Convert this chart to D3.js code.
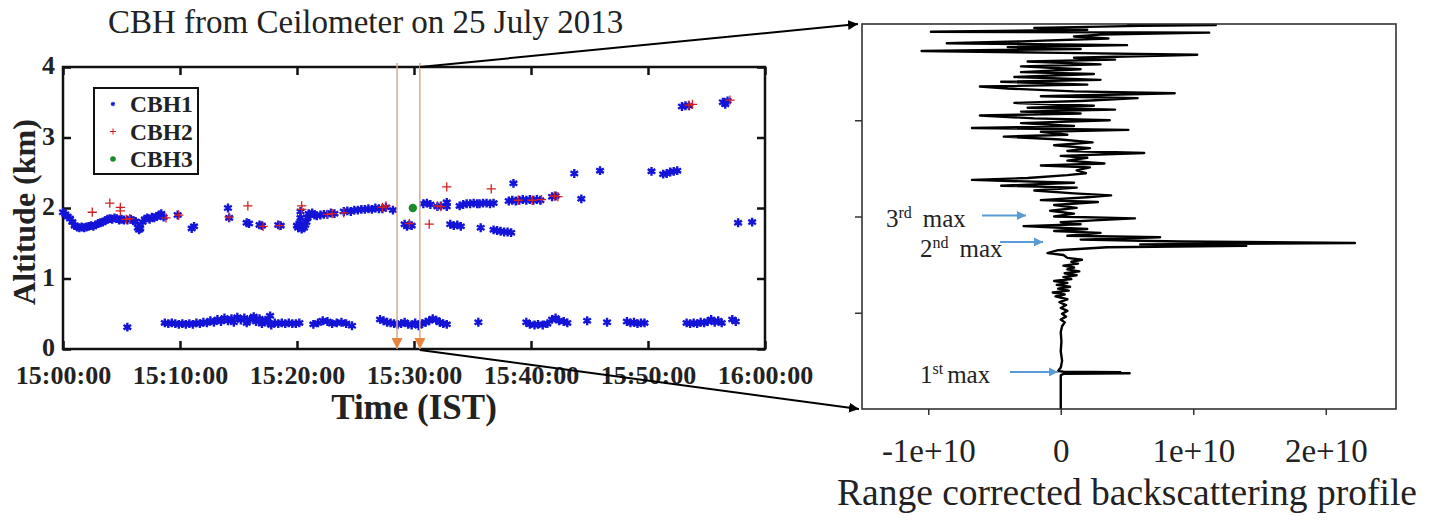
<!DOCTYPE html>
<html>
<head>
<meta charset="utf-8">
<script src="https://cdn.jsdelivr.net/npm/d3@7"></script>
<style>
    body { margin: 0; background: #fff; }
    svg { display: block; font-family: "Liberation Serif", "Times New Roman", serif; }
</style>
</head>
<body>
<svg id="chart" width="1437" height="520"></svg>
<script>
// CBH series, [minutes after 15:00, altitude km]
const cbh1 = [
    [0.0, 1.94], [0.2, 1.91], [0.4, 1.88], [0.6, 1.85], [0.8, 1.80], [1.0, 1.75], [1.2, 1.73], [1.4, 1.72],
    [1.6, 1.73], [1.8, 1.72], [2.0, 1.73], [2.2, 1.74], [2.4, 1.75], [2.6, 1.74], [2.8, 1.76], [3.0, 1.78],
    [3.2, 1.79], [3.4, 1.80], [3.6, 1.82], [3.8, 1.84], [4.0, 1.85], [4.2, 1.84], [4.4, 1.86], [4.6, 1.85],
    [4.8, 1.83], [5.0, 1.84], [5.2, 1.83], [5.5, 1.83], [5.8, 1.84], [6.0, 1.82], [6.2, 1.81], [6.4, 1.72],
    [6.5, 1.69], [6.6, 1.71], [6.8, 1.80], [7.0, 1.84], [7.2, 1.86], [7.4, 1.84], [7.6, 1.87], [7.8, 1.86],
    [8.0, 1.88], [8.2, 1.90], [8.4, 1.92], [8.6, 1.87],
    [9.8, 1.90], [11.0, 1.71], [11.2, 1.74], [14.1, 2.00], [14.2, 1.86], [15.7, 1.79], [15.9, 1.78],
    [16.8, 1.76], [17.0, 1.75], [18.4, 1.76], [18.6, 1.75],
    [20.0, 1.75], [20.1, 1.72], [20.2, 1.78], [20.3, 1.86], [20.3, 1.95], [20.4, 1.70], [20.5, 1.74],
    [20.6, 1.72], [20.7, 1.76], [20.8, 1.80], [20.9, 1.86], [21.0, 1.92], [21.1, 1.90],
    [21.3, 1.93], [21.5, 1.90], [21.7, 1.89], [22.0, 1.90], [22.3, 1.91], [22.6, 1.91], [22.9, 1.93], [23.2, 1.92],
    [24.0, 1.95], [24.3, 1.96], [24.6, 1.95], [24.9, 1.97], [25.2, 1.97], [25.5, 1.98], [25.8, 1.98],
    [26.1, 1.99], [26.4, 1.98], [26.7, 2.00], [27.0, 1.99], [27.3, 1.99], [27.6, 2.01],
    [28.2, 1.97],
    [29.2, 1.77], [29.4, 1.74], [29.6, 1.76], [29.8, 1.75],
    [30.8, 2.06], [31.1, 2.07], [31.4, 2.05], [32.0, 2.02], [32.3, 2.03], [32.8, 2.08], [32.8, 2.02],
    [33.1, 1.77], [33.4, 1.75], [33.7, 1.76], [34.0, 1.74],
    [33.9, 2.03], [34.2, 2.05], [34.5, 2.06], [34.8, 2.06], [35.1, 2.07], [35.4, 2.06],
    [35.7, 1.72],
    [35.6, 2.06], [35.9, 2.07], [36.2, 2.07], [36.5, 2.06], [36.8, 2.07],
    [36.8, 1.69], [37.1, 1.68], [37.4, 1.67], [37.7, 1.66], [38.0, 1.66], [38.3, 1.65],
    [38.5, 2.35],
    [38.1, 2.10], [38.4, 2.11], [38.7, 2.10], [39.0, 2.11], [39.3, 2.12], [39.6, 2.11], [39.9, 2.12],
    [40.2, 2.11], [40.5, 2.12], [40.8, 2.11],
    [41.8, 2.16], [42.1, 2.17],
    [43.7, 2.49], [44.3, 2.13], [45.9, 2.53], [50.3, 2.52], [51.3, 2.48], [51.6, 2.49], [51.9, 2.51],
    [52.2, 2.52], [52.5, 2.53],
    [52.9, 3.44], [53.2, 3.45], [53.5, 3.45],
    [56.4, 3.50], [56.6, 3.47], [56.8, 3.52],
    [57.7, 1.79], [58.9, 1.80],
    // lower layer
    [5.5, 0.31],
    [8.7, 0.37], [9.0, 0.36], [9.3, 0.37], [9.6, 0.36], [9.9, 0.35], [10.2, 0.36], [10.5, 0.35], [10.8, 0.36],
    [11.1, 0.35], [11.4, 0.37], [11.7, 0.36], [12.0, 0.38], [12.3, 0.37], [12.6, 0.40], [12.9, 0.38],
    [13.2, 0.42], [13.5, 0.39], [13.8, 0.44], [14.1, 0.40], [14.4, 0.43], [14.6, 0.38], [14.9, 0.45],
    [15.2, 0.41], [15.5, 0.44], [15.7, 0.37], [16.0, 0.42], [16.3, 0.46], [16.5, 0.39], [16.8, 0.43],
    [17.0, 0.36], [17.3, 0.41], [17.5, 0.38], [17.7, 0.47], [17.8, 0.34], [18.1, 0.37], [18.4, 0.36],
    [18.7, 0.37], [19.0, 0.36], [19.3, 0.37], [19.6, 0.36], [19.9, 0.36], [20.2, 0.37],
    [21.4, 0.35], [21.8, 0.37], [22.2, 0.40], [22.6, 0.39], [23.0, 0.36], [23.4, 0.37], [23.8, 0.38],
    [24.2, 0.36], [24.7, 0.33],
    [27.1, 0.42], [27.4, 0.40], [27.7, 0.38], [28.0, 0.37], [28.3, 0.36], [28.6, 0.35], [28.9, 0.36],
    [29.2, 0.38], [29.5, 0.35], [29.8, 0.34], [30.1, 0.37], [30.4, 0.33], [30.7, 0.36], [31.0, 0.38],
    [31.3, 0.40], [31.6, 0.43], [31.9, 0.41], [32.2, 0.38], [32.5, 0.36], [32.8, 0.35],
    [35.5, 0.38],
    [39.6, 0.38], [39.9, 0.35], [40.3, 0.34], [40.6, 0.35], [41.0, 0.34], [41.4, 0.36], [41.8, 0.42],
    [42.1, 0.44], [42.4, 0.40], [42.8, 0.39], [43.1, 0.37],
    [44.8, 0.40], [46.5, 0.38], [48.2, 0.39], [48.5, 0.37], [48.8, 0.38], [49.1, 0.36], [49.4, 0.37], [49.7, 0.37],
    [53.3, 0.37], [53.6, 0.36], [53.9, 0.37], [54.2, 0.36], [54.5, 0.38], [54.8, 0.37], [55.1, 0.39],
    [55.4, 0.42], [55.7, 0.38], [56.0, 0.40], [56.3, 0.37], [57.2, 0.42], [57.5, 0.39]
]

const cbh2 = [
    [2.5, 1.94], [4.0, 2.07], [4.9, 2.01], [4.9, 1.96], [5.4, 1.84], [5.7, 1.85], [8.8, 1.86], [9.9, 1.90],
    [14.2, 1.87], [15.8, 2.03], [17.1, 1.74], [18.5, 1.75], [20.4, 2.03], [20.4, 1.98], [22.6, 1.91],
    [23.0, 1.92], [24.0, 1.93], [27.3, 2.01], [27.6, 2.03], [29.6, 1.78], [31.3, 1.77], [32.0, 2.03],
    [32.3, 2.02], [32.8, 2.30], [36.6, 2.27], [38.9, 2.11], [40.1, 2.11], [40.9, 2.12], [42.0, 2.17],
    [42.3, 2.16], [53.5, 3.46], [53.8, 3.47], [57.0, 3.53]
]

const cbh3 = [[29.9, 2.00]]

const seriesNames = ['CBH1', 'CBH2', 'CBH3']

// selected profile window (minutes after 15:00)
const windowMinutes = [28.55, 30.5]

const timeTicks = [0, 10, 20, 30, 40, 50, 60]
const altTicks = [0, 1, 2, 3, 4]

// backscatter profile, [altitude km, value / 1e10]
const profile = [
    [0.00, 0.00], [0.35, 0.00], [0.365, 0.02], [0.372, 0.52], [0.378, 0.08], [0.382, 0.45], [0.388, 0.02],
    [0.395, -0.02], [0.43, 0.00], [0.50, 0.01], [0.60, 0.00], [0.70, 0.005], [0.80, 0.00], [0.86, 0.01],
    [0.90, 0.03], [0.93, 0.00], [0.96, 0.04], [0.99, 0.01], [1.02, 0.05], [1.05, 0.00], [1.08, 0.04],
    [1.11, -0.01], [1.14, 0.05], [1.17, -0.04], [1.19, 0.03], [1.21, -0.06], [1.23, 0.06], [1.25, -0.02],
    [1.27, 0.07], [1.29, -0.03], [1.31, 0.05], [1.33, -0.05], [1.35, 0.08], [1.37, 0.02], [1.39, 0.12],
    [1.41, 0.03], [1.43, 0.14], [1.45, 0.05], [1.47, 0.10], [1.49, 0.02], [1.51, 0.13], [1.53, 0.08],
    [1.55, 0.16], [1.57, 0.05], [1.60, 0.02], [1.62, -0.10], [1.65, -0.02], [1.68, 0.35], [1.695, 1.40],
    [1.71, 0.60], [1.725, 2.22], [1.74, 0.90], [1.76, 0.15], [1.785, 0.75], [1.80, 0.05], [1.83, 0.30],
    [1.85, -0.05], [1.87, 0.20], [1.90, -0.28], [1.92, 0.15], [1.94, 0.00], [1.96, 0.25], [1.98, 0.56],
    [2.00, -0.05], [2.03, 0.10], [2.06, -0.08], [2.09, 0.12], [2.12, -0.05], [2.15, 0.28], [2.17, -0.15],
    [2.20, 0.20], [2.22, 0.38], [2.24, 0.10], [2.27, -0.20], [2.30, 0.12], [2.32, -0.45], [2.35, 0.10],
    [2.38, -0.67], [2.40, -0.25], [2.43, 0.05], [2.45, 0.19], [2.48, 0.12], [2.51, 0.22], [2.53, -0.15],
    [2.55, 0.33], [2.58, 0.05], [2.61, 0.20], [2.63, 0.00], [2.66, 0.63], [2.68, 0.05], [2.71, 0.22],
    [2.74, -0.05], [2.77, 0.24], [2.80, 0.00], [2.83, -0.43], [2.85, 0.05], [2.88, -0.15], [2.90, 0.51],
    [2.92, -0.67], [2.94, 0.10], [2.97, -0.30], [3.00, 0.37], [3.02, -0.20], [3.05, -0.61], [3.07, 0.15],
    [3.09, -0.30], [3.11, 0.41], [3.13, -0.25], [3.15, 0.25], [3.18, -0.35], [3.20, 0.15], [3.23, 0.58],
    [3.25, -0.15], [3.28, 0.86], [3.30, 0.10], [3.33, -0.40], [3.35, -0.61], [3.37, 0.20], [3.40, -0.45],
    [3.42, 0.30], [3.45, -0.35], [3.48, 0.25], [3.50, -0.30], [3.53, 0.15], [3.56, -0.30], [3.58, 0.30],
    [3.61, -0.25], [3.63, 0.41], [3.65, 0.10], [3.68, 1.03], [3.70, 0.00], [3.72, -1.05], [3.74, 0.15],
    [3.76, -0.40], [3.78, 0.50], [3.80, -0.86], [3.82, -0.30], [3.85, 0.36], [3.87, 0.10], [3.89, 0.30],
    [3.91, 1.12], [3.92, -0.98], [3.94, 0.20], [3.96, -0.20], [3.98, 0.60], [3.99, 1.17], [4.00, 0.50]
]

const profileTicks = [-1e10, 0, 1e10, 2e10]
const profileAltTicks = [1, 2, 3]

// annotated maxima: label, superscript, altitude of the arrow
const maxima = [
    { n: '1', sup: 'st', alt: 0.375, tx: 920, ty: 383, x0: 1010, x1: 1058 },
    { n: '2', sup: 'nd', alt: 1.725, tx: 920, ty: 257, x0: 1000, x1: 1043 },
    { n: '3', sup: 'rd', alt: 2.00, tx: 886, ty: 227, x0: 982, x1: 1026 }
]

const BLUE = '#1414d8'
const RED = '#d42020'
const GREEN = '#1a8a2a'
const ORANGE_LINE = '#d9ab8a'
const ORANGE_HEAD = '#e8843e'
const ARROW_BLUE = '#5b9bd5'

const L = { left: 63, right: 765, top: 67, bottom: 349 }
const R = { left: 862, right: 1396, top: 24, bottom: 409 }

const svg = d3.select('#chart')

const defs = svg.append('defs')
const addMarker = (id, color, size) => {
    defs.append('marker')
        .attr('id', id)
        .attr('viewBox', '0 0 10 10')
        .attr('refX', 10)
        .attr('refY', 5)
        .attr('markerUnits', 'userSpaceOnUse')
        .attr('markerWidth', size)
        .attr('markerHeight', size)
        .attr('orient', 'auto')
        .append('path')
        .attr('d', 'M0,0 L10,5 L0,10 z')
        .attr('fill', color)
}
addMarker('arrow-black', '#000', 10)
addMarker('arrow-blue', ARROW_BLUE, 9)
addMarker('arrow-orange', ORANGE_HEAD, 11)

defs.append('clipPath').attr('id', 'clip-right')
    .append('rect')
    .attr('x', R.left).attr('y', R.top)
    .attr('width', R.right - R.left).attr('height', R.bottom - R.top)

// ---------- left panel ----------
const t0 = new Date(2013, 6, 25, 15, 0, 0)
const toDate = m => new Date(t0.getTime() + m * 60000)

const x = d3.scaleTime().domain([toDate(0), toDate(60)]).range([L.left, L.right])
const y = d3.scaleLinear().domain([0, 4]).range([L.bottom, L.top])

svg.append('text')
    .attr('x', 108)
    .attr('y', 33)
    .attr('font-size', 33)
    .attr('fill', '#222')
    .text('CBH from Ceilometer on 25 July 2013')

const styleAxis = (g, size) => {
    g.select('.domain').remove()
    g.selectAll('.tick line').attr('stroke', '#111').attr('stroke-width', 2.5)
    g.selectAll('.tick text')
        .attr('font-family', '"Liberation Serif", "Times New Roman", serif')
        .attr('font-size', size)
        .attr('fill', '#222')
}

svg.append('g')
    .attr('transform', `translate(0,${L.bottom})`)
    .call(d3.axisBottom(x).tickValues(timeTicks.map(toDate)).tickFormat(d3.timeFormat('%H:%M:%S'))
        .tickSize(-8).tickSizeOuter(0).tickPadding(17))
    .call(g => styleAxis(g, 26))
    .call(g => g.selectAll('.tick text').attr('font-weight', 'bold'))

svg.append('g')
    .attr('transform', `translate(0,${L.top})`)
    .call(d3.axisTop(x).tickValues(timeTicks.map(toDate)).tickFormat('').tickSize(-8).tickSizeOuter(0))
    .call(g => styleAxis(g, 26))

svg.append('g')
    .attr('transform', `translate(${L.left},0)`)
    .call(d3.axisLeft(y).tickValues(altTicks).tickFormat(d3.format('d')).tickSize(-8).tickSizeOuter(0).tickPadding(8))
    .call(g => styleAxis(g, 26))
    .call(g => g.selectAll('.tick text').attr('font-weight', 'bold').attr('dy', '0.26em'))

svg.append('g')
    .attr('transform', `translate(${L.right},0)`)
    .call(d3.axisRight(y).tickValues(altTicks).tickFormat('').tickSize(-8).tickSizeOuter(0))
    .call(g => styleAxis(g, 26))

svg.append('rect')
    .attr('x', L.left).attr('y', L.top)
    .attr('width', L.right - L.left).attr('height', L.bottom - L.top)
    .attr('fill', 'none')
    .attr('stroke', '#111')
    .attr('stroke-width', 2.5)

svg.append('text')
    .attr('x', (L.left + L.right) / 2)
    .attr('y', 419)
    .attr('text-anchor', 'middle')
    .attr('font-size', 35)
    .attr('font-weight', 'bold')
    .attr('fill', '#222')
    .text('Time (IST)')

svg.append('text')
    .attr('transform', `translate(35,${(L.top + L.bottom) / 2 + 4}) rotate(-90)`)
    .attr('text-anchor', 'middle')
    .attr('font-size', 32)
    .attr('font-weight', 'bold')
    .attr('fill', '#222')
    .text('Altitude (km)')

const asterisk = d3.symbol().type(d3.symbolAsterisk).size(55)
const plus = d3.symbol().type(d3.symbolPlus).size(30)

const gData = svg.append('g')

gData.selectAll('.cbh1')
    .data(cbh1)
    .join('path')
    .attr('class', 'cbh1')
    .attr('transform', d => `translate(${x(toDate(d[0]))},${y(d[1])})`)
    .attr('d', asterisk)
    .attr('fill', 'none')
    .attr('stroke', BLUE)
    .attr('stroke-width', 2.4)

gData.selectAll('.cbh2')
    .data(cbh2)
    .join('path')
    .attr('class', 'cbh2')
    .attr('transform', d => `translate(${x(toDate(d[0]))},${y(d[1])})`)
    .attr('d', plus)
    .attr('fill', 'none')
    .attr('stroke', RED)
    .attr('stroke-width', 1.3)

gData.selectAll('.cbh3')
    .data(cbh3)
    .join('circle')
    .attr('class', 'cbh3')
    .attr('cx', d => x(toDate(d[0])))
    .attr('cy', d => y(d[1]))
    .attr('r', 4.2)
    .attr('fill', GREEN)

// legend
const legend = svg.append('g').attr('transform', 'translate(94,88)')
legend.append('rect')
    .attr('width', 104).attr('height', 86)
    .attr('fill', '#fff')
    .attr('stroke', '#111')
    .attr('stroke-width', 2)

const legendItems = legend.selectAll('.item')
    .data(seriesNames)
    .join('g')
    .attr('class', 'item')
    .attr('transform', (d, i) => `translate(19,${16 + i * 27.5})`)

legendItems.each(function (d, i) {
    const g = d3.select(this)
    if (i === 0) {
        g.append('path').attr('d', d3.symbol().type(d3.symbolAsterisk).size(14)).attr('stroke', BLUE).attr('stroke-width', 1.2).attr('fill', 'none')
    } else if (i === 1) {
        g.append('path').attr('d', d3.symbol().type(d3.symbolPlus).size(14)).attr('stroke', RED).attr('stroke-width', 1).attr('fill', 'none')
    } else {
        g.append('circle').attr('r', 2.8).attr('fill', GREEN)
    }
    g.append('text')
        .attr('x', 17)
        .attr('y', 8)
        .attr('font-size', 23.5)
        .attr('font-weight', 'bold')
        .attr('fill', '#222')
        .text(d)
})

// window markers
svg.selectAll('.win')
    .data(windowMinutes)
    .join('line')
    .attr('class', 'win')
    .attr('x1', d => x(toDate(d)))
    .attr('x2', d => x(toDate(d)))
    .attr('y1', 63)
    .attr('y2', L.bottom)
    .attr('stroke', ORANGE_LINE)
    .attr('stroke-width', 1.5)
    .attr('marker-end', 'url(#arrow-orange)')

// ---------- right panel ----------
const xR = d3.scaleLinear().domain([-1.5e10, 2.53e10]).range([R.left, R.right])
const yR = d3.scaleLinear().domain([0, 4]).range([R.bottom, R.top])

svg.append('path')
    .datum(profile)
    .attr('clip-path', 'url(#clip-right)')
    .attr('d', d3.line().x(d => xR(d[1] * 1e10)).y(d => yR(d[0])))
    .attr('fill', 'none')
    .attr('stroke', '#000')
    .attr('stroke-width', 2.4)
    .attr('stroke-linejoin', 'round')

const styleRight = g => {
    g.select('.domain').remove()
    g.selectAll('.tick line').attr('stroke', '#333').attr('stroke-width', 1.5)
    g.selectAll('.tick text')
        .attr('font-family', '"Liberation Serif", "Times New Roman", serif')
        .attr('font-size', 33)
        .attr('fill', '#222')
}

svg.append('g')
    .attr('transform', `translate(0,${R.bottom})`)
    .call(d3.axisBottom(xR).tickValues(profileTicks)
        .tickFormat(v => v === 0 ? '0' : `${v / 1e10}e+10`)
        .tickSize(6).tickSizeOuter(0).tickPadding(24))
    .call(styleRight)

svg.append('g')
    .attr('transform', `translate(${R.left},0)`)
    .call(d3.axisLeft(yR).tickValues(profileAltTicks).tickFormat('').tickSize(7).tickSizeOuter(0))
    .call(styleRight)

svg.append('rect')
    .attr('x', R.left).attr('y', R.top)
    .attr('width', R.right - R.left).attr('height', R.bottom - R.top)
    .attr('fill', 'none')
    .attr('stroke', '#333')
    .attr('stroke-width', 1.6)

svg.append('text')
    .attr('x', 1127)
    .attr('y', 505)
    .attr('text-anchor', 'middle')
    .attr('font-size', 37.5)
    .attr('fill', '#222')
    .text('Range corrected backscattering profile')

// maxima annotations
maxima.forEach(m => {
    const t = svg.append('text')
        .attr('x', m.tx)
        .attr('y', m.ty)
        .attr('font-size', 25)
        .attr('fill', '#222')
    t.append('tspan').text(m.n)
    t.append('tspan').attr('font-size', 16).attr('dy', -9).text(m.sup)
    t.append('tspan').attr('dy', 9).attr('dx', m.n === '1' ? 4 : 11).text('max')

    svg.append('line')
        .attr('x1', m.x0)
        .attr('x2', m.x1)
        .attr('y1', yR(m.alt) - 1)
        .attr('y2', yR(m.alt) - 1)
        .attr('stroke', ARROW_BLUE)
        .attr('stroke-width', 2)
        .attr('marker-end', 'url(#arrow-blue)')
})

// zoom connector lines
const xw = x(toDate(windowMinutes[1]))
svg.append('line')
    .attr('x1', xw).attr('y1', L.top)
    .attr('x2', R.left - 4).attr('y2', R.top)
    .attr('stroke', '#000').attr('stroke-width', 2)
    .attr('marker-end', 'url(#arrow-black)')
svg.append('line')
    .attr('x1', xw).attr('y1', L.bottom + 1)
    .attr('x2', R.left - 3).attr('y2', R.bottom)
    .attr('stroke', '#000').attr('stroke-width', 2)
    .attr('marker-end', 'url(#arrow-black)')
</script>
</body>
</html>
